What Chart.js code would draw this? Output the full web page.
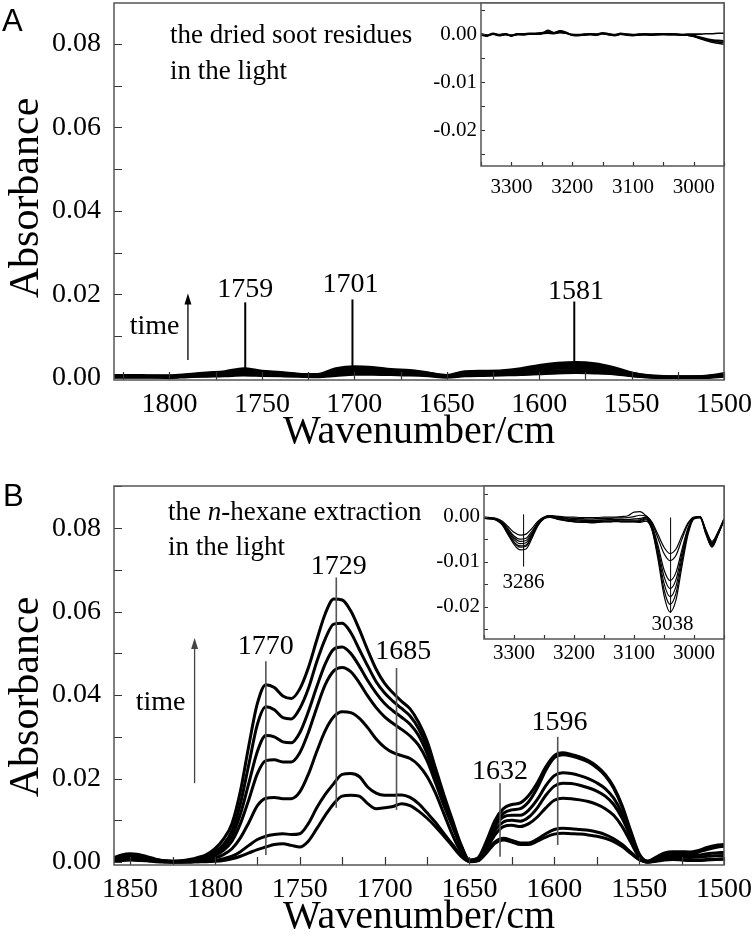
<!DOCTYPE html>
<html>
<head>
<meta charset="utf-8">
<title>FTIR spectra</title>
<script src="https://cdn.jsdelivr.net/npm/chart.js@4.4.0/dist/chart.umd.min.js"></script>
<style>
  body { margin: 0; background: #fff; }
  #wrap { position: relative; width: 756px; height: 943px; overflow: hidden; }
  canvas { position: absolute; }
</style>
</head>
<body>
<div id="wrap">
  <canvas id="mainA" width="756" height="470" style="left:0;top:0"></canvas>
  <canvas id="mainB" width="756" height="473" style="left:0;top:470px"></canvas>
  <canvas id="insetA" width="336" height="200" style="left:420px;top:0"></canvas>
  <canvas id="insetB" width="336" height="200" style="left:420px;top:470px"></canvas>
</div>
<script>
// ---- data ----
// panel A : dried soot residues, 1830-1500 cm-1
var wnA = [1830,1820,1810,1800,1790,1780,1770,1760,1750,1740,1730,1720,1710,1700,1690,1680,1670,
           1660,1650,1640,1630,1620,1610,1600,1590,1580,1570,1560,1550,1540,1530,1520,1510,1500];
var soot1 = [0.0002,0.0002,0.0002,0.0001,0.0003,0.0004,0.0005,0.0007,0.0006,0.0005,0.0004,0.0003,0.0006,0.0009,0.0009,0.0008,0.0007,
             0.0005,0.0002,0.0005,0.0006,0.0007,0.0008,0.0010,0.0012,0.0013,0.0012,0.0010,0.0005,0.0002,0.0001,0.0001,0.0001,0.0004];
var soot2 = [0.0002,0.0002,0.0002,0.0002,0.0004,0.0005,0.0007,0.0010,0.0008,0.0006,0.0005,0.0004,0.0009,0.0013,0.0013,0.0011,0.0010,
             0.0007,0.0003,0.0007,0.0008,0.0009,0.0010,0.0014,0.0017,0.0018,0.0017,0.0013,0.0006,0.0002,0.0001,0.0001,0.0002,0.0005];
var soot3 = [0.0003,0.0003,0.0003,0.0003,0.0005,0.0007,0.0009,0.0013,0.0010,0.0008,0.0006,0.0005,0.0012,0.0017,0.0016,0.0014,0.0012,
             0.0008,0.0003,0.0009,0.0010,0.0011,0.0013,0.0019,0.0023,0.0024,0.0022,0.0017,0.0008,0.0003,0.0001,0.0001,0.0002,0.0006];
var soot4 = [0.0004,0.0004,0.0004,0.0003,0.0006,0.0009,0.0011,0.0016,0.0012,0.0010,0.0007,0.0006,0.0015,0.0020,0.0019,0.0016,0.0014,
             0.0010,0.0004,0.0011,0.0012,0.0013,0.0016,0.0023,0.0028,0.0029,0.0027,0.0020,0.0010,0.0004,0.0002,0.0002,0.0003,0.0007];
var soot5 = [0.0005,0.0005,0.0004,0.0004,0.0007,0.0010,0.0013,0.0019,0.0014,0.0011,0.0008,0.0007,0.0019,0.0024,0.0022,0.0018,0.0016,
             0.0011,0.0005,0.0013,0.0014,0.0015,0.0019,0.0027,0.0032,0.0033,0.0030,0.0022,0.0011,0.0004,0.0002,0.0002,0.0003,0.0008];
var soot6 = [0.0006,0.0006,0.0005,0.0005,0.0008,0.0012,0.0015,0.0022,0.0016,0.0013,0.0009,0.0008,0.0022,0.0027,0.0025,0.0020,0.0018,
             0.0012,0.0006,0.0015,0.0016,0.0017,0.0022,0.0030,0.0035,0.0037,0.0034,0.0025,0.0012,0.0005,0.0003,0.0003,0.0004,0.0010];

// panel B : n-hexane extraction, 1860-1500 cm-1
var wnB = [1860,1855,1850,1845,1840,1835,1830,1825,1820,1815,1810,1805,
           1800,1795,1790,1785,1780,1775,1770,1765,1760,1755,1750,1745,
           1740,1735,1730,1725,1720,1715,1710,1705,1700,1695,1690,1685,
           1680,1675,1670,1665,1660,1655,1650,1645,1640,1635,1630,1625,
           1620,1615,1610,1605,1600,1595,1590,1585,1580,1575,1570,1565,
           1560,1555,1550,1545,1540,1535,1530,1525,1520,1515,1510,1505,
           1500];
var hex1 = [0.0002,0.0004,0.0005,0.0004,0.0003,0.0001,0.0000,0.0000,0.0000,0.0000,0.0001,0.0001,
            0.0002,0.0004,0.0008,0.0014,0.0022,0.0030,0.0036,0.0042,0.0044,0.0040,0.0036,0.0050,
            0.0080,0.0112,0.0140,0.0158,0.0160,0.0158,0.0140,0.0128,0.0130,0.0133,0.0140,0.0135,
            0.0122,0.0105,0.0085,0.0062,0.0038,0.0014,0.0001,0.0003,0.0022,0.0045,0.0053,0.0048,
            0.0042,0.0042,0.0050,0.0060,0.0067,0.0069,0.0068,0.0067,0.0065,0.0062,0.0057,0.0049,
            0.0037,0.0021,0.0006,0.0000,0.0002,0.0005,0.0006,0.0005,0.0004,0.0004,0.0005,0.0006,
            0.0007];
var hex2 = [0.0003,0.0005,0.0006,0.0005,0.0004,0.0002,0.0001,0.0000,0.0000,0.0000,0.0001,0.0002,
            0.0004,0.0008,0.0014,0.0025,0.0040,0.0054,0.0062,0.0066,0.0068,0.0066,0.0068,0.0092,
            0.0130,0.0162,0.0188,0.0210,0.0212,0.0205,0.0180,0.0165,0.0160,0.0160,0.0161,0.0155,
            0.0140,0.0118,0.0095,0.0068,0.0042,0.0016,0.0002,0.0004,0.0025,0.0048,0.0057,0.0052,
            0.0046,0.0046,0.0055,0.0068,0.0078,0.0081,0.0080,0.0078,0.0076,0.0072,0.0066,0.0056,
            0.0042,0.0024,0.0007,0.0000,0.0003,0.0006,0.0007,0.0006,0.0005,0.0005,0.0006,0.0007,
            0.0008];
var hex3 = [0.0004,0.0007,0.0008,0.0007,0.0005,0.0003,0.0001,0.0000,0.0000,0.0001,0.0002,0.0005,
            0.0010,0.0018,0.0032,0.0058,0.0095,0.0135,0.0153,0.0155,0.0152,0.0152,0.0168,0.0210,
            0.0265,0.0315,0.0348,0.0360,0.0358,0.0345,0.0322,0.0295,0.0275,0.0262,0.0255,0.0248,
            0.0232,0.0205,0.0165,0.0115,0.0065,0.0024,0.0002,0.0004,0.0030,0.0065,0.0085,0.0088,
            0.0085,0.0092,0.0108,0.0130,0.0148,0.0153,0.0152,0.0149,0.0145,0.0138,0.0128,0.0112,
            0.0085,0.0048,0.0012,0.0000,0.0005,0.0010,0.0012,0.0012,0.0011,0.0012,0.0014,0.0015,
            0.0016];
var hex4 = [0.0005,0.0009,0.0011,0.0010,0.0007,0.0004,0.0002,0.0001,0.0001,0.0002,0.0004,0.0009,
            0.0016,0.0028,0.0050,0.0092,0.0150,0.0212,0.0243,0.0245,0.0240,0.0240,0.0262,0.0310,
            0.0370,0.0425,0.0458,0.0466,0.0456,0.0430,0.0398,0.0370,0.0348,0.0332,0.0318,0.0302,
            0.0280,0.0243,0.0190,0.0135,0.0085,0.0035,0.0003,0.0005,0.0036,0.0076,0.0096,0.0100,
            0.0098,0.0108,0.0130,0.0160,0.0182,0.0189,0.0188,0.0184,0.0178,0.0170,0.0158,0.0138,
            0.0105,0.0060,0.0015,0.0001,0.0007,0.0014,0.0016,0.0016,0.0015,0.0017,0.0020,0.0022,
            0.0023];
var hex5 = [0.0006,0.0011,0.0013,0.0012,0.0009,0.0005,0.0002,0.0001,0.0002,0.0003,0.0006,0.0012,
            0.0020,0.0035,0.0062,0.0115,0.0190,0.0265,0.0303,0.0300,0.0288,0.0286,0.0310,0.0360,
            0.0420,0.0475,0.0510,0.0515,0.0500,0.0470,0.0435,0.0405,0.0380,0.0362,0.0347,0.0330,
            0.0303,0.0260,0.0202,0.0142,0.0090,0.0038,0.0003,0.0006,0.0040,0.0085,0.0108,0.0112,
            0.0112,0.0125,0.0150,0.0183,0.0207,0.0214,0.0212,0.0207,0.0200,0.0190,0.0176,0.0153,
            0.0116,0.0065,0.0016,0.0001,0.0009,0.0018,0.0021,0.0021,0.0020,0.0024,0.0030,0.0035,
            0.0038];
var hex6 = [0.0008,0.0014,0.0016,0.0015,0.0011,0.0006,0.0003,0.0002,0.0002,0.0004,0.0009,0.0015,
            0.0025,0.0042,0.0075,0.0140,0.0235,0.0330,0.0372,0.0365,0.0346,0.0343,0.0368,0.0415,
            0.0480,0.0535,0.0570,0.0572,0.0550,0.0510,0.0470,0.0432,0.0405,0.0385,0.0368,0.0350,
            0.0320,0.0275,0.0212,0.0150,0.0094,0.0040,0.0004,0.0008,0.0045,0.0092,0.0117,0.0125,
            0.0128,0.0145,0.0178,0.0220,0.0250,0.0257,0.0254,0.0248,0.0240,0.0226,0.0207,0.0177,
            0.0132,0.0072,0.0018,0.0002,0.0010,0.0020,0.0023,0.0023,0.0022,0.0026,0.0032,0.0037,
            0.0040];
var hex7 = [0.0010,0.0017,0.0020,0.0018,0.0013,0.0007,0.0003,0.0002,0.0003,0.0006,0.0011,0.0018,
            0.0032,0.0055,0.0092,0.0170,0.0280,0.0380,0.0425,0.0418,0.0398,0.0392,0.0415,0.0465,
            0.0532,0.0595,0.0630,0.0628,0.0602,0.0558,0.0508,0.0462,0.0428,0.0405,0.0385,0.0367,
            0.0335,0.0290,0.0225,0.0160,0.0100,0.0042,0.0005,0.0010,0.0050,0.0100,0.0128,0.0138,
            0.0142,0.0160,0.0190,0.0228,0.0255,0.0262,0.0258,0.0252,0.0243,0.0230,0.0210,0.0180,
            0.0135,0.0075,0.0020,0.0002,0.0012,0.0022,0.0025,0.0025,0.0024,0.0028,0.0035,0.0040,
            0.0042];

// insets : 3350-2950 cm-1
var wnCH = [3350,3340,3330,3320,3310,3300,3290,3280,3270,3260,
            3250,3240,3230,3220,3210,3200,3190,3180,3170,3160,
            3150,3140,3130,3120,3110,3100,3090,3080,3070,3060,
            3050,3040,3030,3020,3010,3000,2990,2980,2970,2960,2950];
var sootCH1 = [0.0000,-0.0003,0.0001,-0.0002,0.0000,-0.0003,0.0000,0.0000,0.0001,0.0001,
               0.0002,0.0003,0.0002,0.0003,0.0002,-0.0001,-0.0002,-0.0001,0.0000,-0.0001,
               0.0002,0.0000,-0.0002,0.0001,-0.0001,-0.0002,-0.0001,0.0000,-0.0001,0.0000,
               0.0000,0.0000,0.0000,-0.0001,0.0000,0.0000,0.0000,0.0001,0.0001,0.0002,0.0002];
var sootCH2 = [-0.0002,-0.0004,0.0000,-0.0003,-0.0001,-0.0004,-0.0001,-0.0001,0.0000,0.0000,
               0.0001,0.0008,0.0003,0.0007,0.0004,-0.0002,-0.0003,-0.0002,-0.0001,-0.0002,
               0.0001,-0.0001,-0.0003,0.0000,-0.0002,-0.0003,-0.0002,-0.0001,-0.0002,-0.0001,
               -0.0001,-0.0001,-0.0001,-0.0002,-0.0002,-0.0003,-0.0006,-0.0009,-0.0012,-0.0013,-0.0014];
var sootCH3 = [0.0001,-0.0002,0.0002,-0.0001,0.0001,-0.0002,0.0001,0.0001,0.0002,0.0002,
               0.0003,0.0005,0.0003,0.0006,0.0003,-0.0001,-0.0001,0.0000,0.0001,0.0000,
               0.0003,0.0001,-0.0001,0.0002,0.0000,-0.0001,0.0000,0.0001,0.0000,0.0001,
               0.0001,0.0001,0.0000,-0.0001,-0.0002,-0.0005,-0.0009,-0.0013,-0.0017,-0.0019,-0.0021];
var sootCH4 = [-0.0001,-0.0003,0.0001,-0.0002,0.0000,-0.0003,0.0000,-0.0001,0.0001,0.0000,
               0.0001,0.0002,0.0001,0.0004,0.0002,-0.0002,-0.0002,-0.0001,0.0000,-0.0001,
               0.0001,-0.0001,-0.0002,0.0000,-0.0001,-0.0002,-0.0001,-0.0001,-0.0001,-0.0001,
               0.0000,-0.0001,-0.0001,-0.0002,-0.0002,-0.0004,-0.0008,-0.0011,-0.0014,-0.0016,-0.0017];

var hexCH1 = [-0.0001,-0.0002,-0.0004,-0.0010,-0.0022,-0.0035,-0.0041,-0.0039,-0.0026,-0.0010,
              -0.0001,0.0002,0.0001,0.0000,-0.0001,-0.0001,-0.0002,-0.0002,-0.0002,-0.0002,
              -0.0001,-0.0001,-0.0001,0.0000,0.0002,0.0010,0.0011,0.0002,-0.0012,-0.0040,
              -0.0068,-0.0082,-0.0072,-0.0042,-0.0014,-0.0001,0.0000,-0.0030,-0.0055,-0.0034,-0.0005];
var hexCH2 = [-0.0002,-0.0003,-0.0005,-0.0012,-0.0027,-0.0043,-0.0050,-0.0048,-0.0032,-0.0013,
              -0.0002,0.0002,0.0000,-0.0002,-0.0003,-0.0004,-0.0004,-0.0005,-0.0005,-0.0004,
              -0.0004,-0.0004,-0.0003,-0.0003,-0.0002,0.0000,0.0003,0.0001,-0.0015,-0.0048,
              -0.0082,-0.0098,-0.0086,-0.0050,-0.0017,-0.0002,0.0000,-0.0032,-0.0058,-0.0036,-0.0006];
var hexCH3 = [-0.0002,-0.0003,-0.0006,-0.0014,-0.0030,-0.0047,-0.0055,-0.0053,-0.0036,-0.0014,
              -0.0002,0.0001,-0.0001,-0.0003,-0.0005,-0.0006,-0.0007,-0.0007,-0.0008,-0.0007,
              -0.0007,-0.0006,-0.0006,-0.0006,-0.0006,-0.0005,-0.0004,-0.0001,-0.0020,-0.0064,
              -0.0118,-0.0142,-0.0124,-0.0073,-0.0025,-0.0003,0.0000,-0.0033,-0.0060,-0.0037,-0.0006];
var hexCH4 = [-0.0003,-0.0004,-0.0006,-0.0015,-0.0033,-0.0051,-0.0060,-0.0058,-0.0039,-0.0016,
              -0.0003,0.0001,-0.0002,-0.0004,-0.0006,-0.0007,-0.0008,-0.0009,-0.0009,-0.0009,
              -0.0008,-0.0008,-0.0008,-0.0008,-0.0008,-0.0008,-0.0007,-0.0003,-0.0023,-0.0072,
              -0.0133,-0.0160,-0.0140,-0.0082,-0.0028,-0.0003,-0.0001,-0.0035,-0.0062,-0.0038,-0.0007];
var hexCH5 = [-0.0003,-0.0004,-0.0007,-0.0016,-0.0036,-0.0056,-0.0065,-0.0063,-0.0042,-0.0017,
              -0.0004,0.0000,-0.0003,-0.0006,-0.0008,-0.0009,-0.0010,-0.0011,-0.0011,-0.0011,
              -0.0010,-0.0010,-0.0009,-0.0010,-0.0010,-0.0010,-0.0009,-0.0005,-0.0026,-0.0080,
              -0.0148,-0.0178,-0.0155,-0.0091,-0.0031,-0.0004,-0.0001,-0.0036,-0.0064,-0.0039,-0.0007];
var hexCH6 = [-0.0004,-0.0005,-0.0007,-0.0017,-0.0038,-0.0058,-0.0068,-0.0066,-0.0044,-0.0018,
              -0.0004,-0.0001,-0.0004,-0.0007,-0.0009,-0.0011,-0.0012,-0.0012,-0.0013,-0.0012,
              -0.0011,-0.0011,-0.0010,-0.0011,-0.0011,-0.0011,-0.0011,-0.0007,-0.0028,-0.0088,
              -0.0162,-0.0195,-0.0170,-0.0100,-0.0035,-0.0004,-0.0002,-0.0038,-0.0066,-0.0040,-0.0008];
var hexCH7 = [-0.0004,-0.0005,-0.0008,-0.0018,-0.0040,-0.0062,-0.0074,-0.0072,-0.0048,-0.0020,
              -0.0005,-0.0002,-0.0005,-0.0008,-0.0010,-0.0012,-0.0013,-0.0013,-0.0014,-0.0013,
              -0.0012,-0.0012,-0.0011,-0.0012,-0.0012,-0.0012,-0.0013,-0.0010,-0.0030,-0.0095,
              -0.0175,-0.0212,-0.0185,-0.0110,-0.0040,-0.0005,-0.0003,-0.0040,-0.0068,-0.0041,-0.0008];

// tick labels and marked peaks
var xTicksA = [1500,1550,1600,1650,1700,1750,1800];
var xTicksB = [1500,1550,1600,1650,1700,1750,1800,1850];
var xTicksCH = [3000,3100,3200,3300];
var yTicksMain = [0, 0.02, 0.04, 0.06, 0.08];
var yTicksCH = [-0.02, -0.01, 0];
var peaksA = [1759, 1701, 1581];
var peaksB = [1770, 1729, 1685, 1632, 1596];
var peaksCH = [3286, 3038];

var SERIF = '"Liberation Serif", "Times New Roman", serif';

// frame, inward ticks and annotations
var marksPlugin = {
  id: 'marks',
  beforeDraw: function (chart, args, o) {
    if (!o.fill) return;
    var a = chart.chartArea, ctx = chart.ctx;
    ctx.save();
    ctx.fillStyle = '#fff';
    ctx.fillRect(a.left, a.top, a.right - a.left, a.bottom - a.top);
    ctx.restore();
  },
  afterDraw: function (chart, args, o) {
    var ctx = chart.ctx, a = chart.chartArea;
    var xs = chart.scales.x, ys = chart.scales.y;
    var k, px, py;
    ctx.save();

    // minor/major ticks pointing in
    ctx.strokeStyle = '#333';
    ctx.lineWidth = 1.2;
    ctx.beginPath();
    for (k = Math.ceil(xs.min / o.xStep - 1e-9); k * o.xStep <= xs.max + 1e-9; k++) {
      px = Math.round(xs.getPixelForValue(k * o.xStep)) + 0.5;
      ctx.moveTo(px, a.bottom);
      ctx.lineTo(px, a.bottom - o.tickLen);
    }
    for (k = Math.ceil(ys.min / o.yStep - 1e-9); k * o.yStep <= ys.max + 1e-9; k++) {
      py = Math.round(ys.getPixelForValue(k * o.yStep)) + 0.5;
      ctx.moveTo(a.left, py);
      ctx.lineTo(a.left + o.tickLen, py);
    }
    ctx.stroke();

    // box
    ctx.strokeStyle = '#555';
    ctx.lineWidth = 1.5;
    ctx.strokeRect(a.left, a.top, a.right - a.left, a.bottom - a.top);

    // peak marker lines + labels
    (o.peaks || []).forEach(function (p) {
      px = xs.getPixelForValue(p.at);
      ctx.strokeStyle = o.peakColor;
      ctx.lineWidth = o.peakWidth;
      ctx.beginPath();
      ctx.moveTo(px, ys.getPixelForValue(p.y0));
      ctx.lineTo(px, ys.getPixelForValue(p.y1));
      ctx.stroke();
      ctx.fillStyle = '#000';
      ctx.font = o.peakFont + 'px ' + SERIF;
      ctx.textAlign = 'center';
      ctx.textBaseline = 'middle';
      ctx.fillText(String(p.label), xs.getPixelForValue(p.tx), ys.getPixelForValue(p.ty));
    });

    // time arrow
    if (o.arrow) {
      var ar = o.arrow;
      px = xs.getPixelForValue(ar.x);
      var yb = ys.getPixelForValue(ar.y0), yt = ys.getPixelForValue(ar.y1);
      ctx.strokeStyle = ar.color;
      ctx.fillStyle = ar.color;
      ctx.lineWidth = 1.3;
      ctx.beginPath();
      ctx.moveTo(px, yb);
      ctx.lineTo(px, yt + 8);
      ctx.stroke();
      ctx.beginPath();
      ctx.moveTo(px, yt);
      ctx.lineTo(px - 3.5, yt + 11);
      ctx.lineTo(px + 3.5, yt + 11);
      ctx.closePath();
      ctx.fill();
      ctx.fillStyle = '#000';
      ctx.font = '28px ' + SERIF;
      ctx.textAlign = 'center';
      ctx.textBaseline = 'middle';
      ctx.fillText('time', xs.getPixelForValue(ar.tx), ys.getPixelForValue(ar.ty));
    }

    // free text lines (with italic runs)
    (o.notes || []).forEach(function (n) {
      var x = n.x;
      ctx.textAlign = 'left';
      ctx.textBaseline = 'alphabetic';
      ctx.fillStyle = '#000';
      n.runs.forEach(function (r) {
        ctx.font = (r.i ? 'italic ' : '') + n.size + 'px ' + SERIF;
        ctx.fillText(r.t, x, n.y);
        x += ctx.measureText(r.t).width;
      });
    });

    // rotated y axis title
    if (o.yTitle) {
      ctx.save();
      ctx.translate(o.yTitle.x, o.yTitle.y);
      ctx.rotate(-Math.PI / 2);
      ctx.fillStyle = '#000';
      ctx.font = '42px ' + SERIF;
      ctx.textAlign = 'center';
      ctx.textBaseline = 'middle';
      ctx.fillText(o.yTitle.t, 0, 0);
      ctx.restore();
    }

    // panel letter
    if (o.letter) {
      ctx.fillStyle = '#000';
      ctx.font = '31px "Liberation Sans", Arial, sans-serif';
      ctx.textAlign = 'left';
      ctx.textBaseline = 'alphabetic';
      ctx.fillText(o.letter.t, o.letter.x, o.letter.y);
    }
    ctx.restore();
  }
};

function toPoints(xs, ys) {
  return xs.map(function (w, i) { return { x: w, y: ys[i] }; });
}

function makeChart(id, c) {
  var tickFont = { family: SERIF, size: c.tickSize };
  return new Chart(document.getElementById(id).getContext('2d'), {
    type: 'line',
    data: {
      datasets: c.series.map(function (s) {
        return {
          data: toPoints(c.wn, s),
          borderColor: '#000',
          borderWidth: c.lw,
          pointRadius: 0,
          fill: false,
          cubicInterpolationMode: 'monotone'
        };
      })
    },
    options: {
      responsive: false,
      animation: false,
      events: [],
      layout: { padding: c.pad },
      plugins: {
        legend: { display: false },
        tooltip: { enabled: false },
        marks: c.marks
      },
      scales: {
        x: {
          type: 'linear',
          reverse: true,
          min: c.xMin,
          max: c.xMax,
          afterBuildTicks: function (s) { s.ticks = c.xTicks.map(function (v) { return { value: v }; }); },
          afterFit: function (s) { s.height = c.xH; s.paddingLeft = 0; s.paddingRight = 0; },
          grid: { display: false, drawTicks: false },
          border: { display: false },
          ticks: {
            color: '#000', font: tickFont, padding: c.xPad, maxRotation: 0, autoSkip: false,
            callback: function (v) { return String(v); }
          },
          title: c.xTitle ? {
            display: true, text: c.xTitle, color: '#000',
            font: { family: SERIF, size: 40 }, padding: { top: 0, bottom: c.xTitlePad }
          } : { display: false }
        },
        y: {
          type: 'linear',
          min: c.yMin,
          max: c.yMax,
          afterBuildTicks: function (s) { s.ticks = c.yTicks.map(function (v) { return { value: v }; }); },
          afterFit: function (s) { s.width = c.yW; s.paddingTop = 0; s.paddingBottom = 0; },
          grid: { display: false, drawTicks: false },
          border: { display: false },
          ticks: {
            color: '#000', font: tickFont, padding: c.yPad, autoSkip: false,
            callback: function (v) { return v.toFixed(2); }
          }
        }
      }
    },
    plugins: [marksPlugin]
  });
}

// ---- panel A ----
makeChart('mainA', {
  wn: wnA, series: [soot1, soot2, soot3, soot4, soot5, soot6], lw: 3,
  xMin: 1500, xMax: 1830, yMin: -0.0005, yMax: 0.0898,
  xTicks: xTicksA, yTicks: yTicksMain, tickSize: 28,
  pad: { top: 3, right: 32, bottom: 0, left: 0 },
  xH: 90, yW: 114, xPad: 8, yPad: 13,
  xTitle: 'Wavenumber/cm', xTitlePad: 14,
  marks: {
    xStep: 25, yStep: 0.01, tickLen: 8,
    peakColor: '#000', peakWidth: 2, peakFont: 28,
    peaks: [
      { label: peaksA[0], at: 1759, y0: 0.0022, y1: 0.0181, tx: 1759, ty: 0.0211 },
      { label: peaksA[1], at: 1701, y0: 0.0025, y1: 0.0188, tx: 1702, ty: 0.0223 },
      { label: peaksA[2], at: 1581, y0: 0.0035, y1: 0.0183, tx: 1580, ty: 0.0206 }
    ],
    arrow: { x: 1790, y0: 0.0043, y1: 0.0202, tx: 1808, ty: 0.0123, color: '#000' },
    notes: [
      { x: 170, y: 43, size: 27, runs: [{ t: 'the dried soot residues' }] },
      { x: 170, y: 79, size: 27, runs: [{ t: 'in the light' }] }
    ],
    yTitle: { t: 'Absorbance', x: 27, y: 198 },
    letter: { t: 'A', x: 2, y: 31 }
  }
});

makeChart('insetA', {
  wn: wnCH, series: [sootCH1, sootCH2, sootCH3, sootCH4], lw: 1.6,
  xMin: 2950, xMax: 3350, yMin: -0.0275, yMax: 0.0065,
  xTicks: xTicksCH, yTicks: yTicksCH, tickSize: 21,
  pad: { top: 3, right: 32, bottom: 0, left: 0 },
  xH: 34, yW: 61, xPad: 9, yPad: 4,
  marks: { fill: true, xStep: 50, yStep: 0.005, tickLen: 4, peaks: [] }
});

// ---- panel B ----
makeChart('mainB', {
  wn: wnB, series: [hex1, hex2, hex3, hex4, hex5, hex6, hex7], lw: 3,
  xMin: 1500, xMax: 1859.5, yMin: -0.0007, yMax: 0.0901,
  xTicks: xTicksB, yTicks: yTicksMain, tickSize: 28,
  pad: { top: 16, right: 32, bottom: 0, left: 0 },
  xH: 78, yW: 114, xPad: 8, yPad: 13,
  xTitle: 'Wavenumber/cm', xTitlePad: 2,
  marks: {
    xStep: 25, yStep: 0.01, tickLen: 8,
    peakColor: '#555', peakWidth: 1.6, peakFont: 28,
    peaks: [
      { label: peaksB[0], at: 1770, y0: 0.0017, y1: 0.0481, tx: 1770, ty: 0.0516 },
      { label: peaksB[1], at: 1728.5, y0: 0.0130, y1: 0.0682, tx: 1727, ty: 0.0709 },
      { label: peaksB[2], at: 1693, y0: 0.0125, y1: 0.0465, tx: 1689, ty: 0.0505 },
      { label: peaksB[3], at: 1632, y0: 0.0013, y1: 0.0189, tx: 1632, ty: 0.0217 },
      { label: peaksB[4], at: 1598, y0: 0.0041, y1: 0.0300, tx: 1597, ty: 0.0335 }
    ],
    arrow: { x: 1812, y0: 0.0189, y1: 0.0537, tx: 1832, ty: 0.0381, color: '#444' },
    notes: [
      { x: 168, y: 50, size: 27, runs: [{ t: 'the ' }, { t: 'n', i: true }, { t: '-hexane extraction' }] },
      { x: 168, y: 85, size: 27, runs: [{ t: 'in the light' }] }
    ],
    yTitle: { t: 'Absorbance', x: 27, y: 227 },
    letter: { t: 'B', x: 3, y: 36 }
  }
});

makeChart('insetB', {
  wn: wnCH, series: [hexCH1, hexCH2, hexCH3, hexCH4, hexCH5, hexCH6, hexCH7], lw: 1.2,
  xMin: 2950, xMax: 3350, yMin: -0.0272, yMax: 0.0068,
  xTicks: xTicksCH, yTicks: yTicksCH, tickSize: 21,
  pad: { top: 16, right: 32, bottom: 0, left: 0 },
  xH: 31, yW: 64, xPad: 2, yPad: 4,
  marks: {
    fill: true, xStep: 50, yStep: 0.005, tickLen: 4,
    peakColor: '#000', peakWidth: 1, peakFont: 21,
    peaks: [
      { label: peaksCH[0], at: 3284, y0: 0.0005, y1: -0.0111, tx: 3284, ty: -0.0147 },
      { label: peaksCH[1], at: 3039, y0: -0.0002, y1: -0.0214, tx: 3036, ty: -0.0240 }
    ]
  }
});
</script>
</body>
</html>
